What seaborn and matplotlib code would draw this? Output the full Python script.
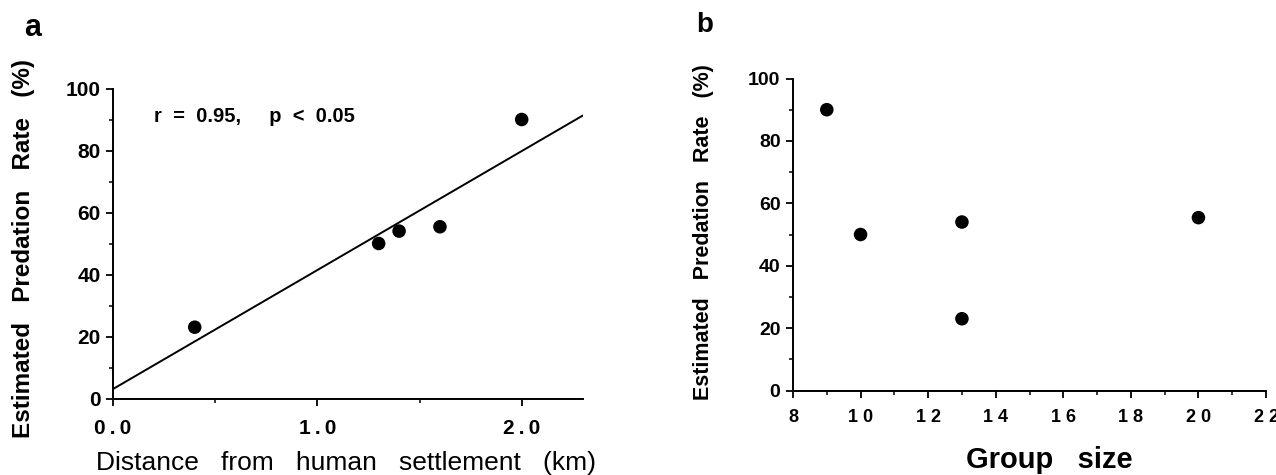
import numpy as np
import pandas as pd
import matplotlib
matplotlib.use('Agg')
import matplotlib.pyplot as plt
import seaborn as sns
from matplotlib.ticker import MultipleLocator

sns.set_style("ticks")
plt.rcParams['font.family'] = ['Liberation Sans', 'DejaVu Sans']
plt.rcParams['text.color'] = 'black'
plt.rcParams['axes.labelcolor'] = 'black'
plt.rcParams['xtick.color'] = 'black'
plt.rcParams['ytick.color'] = 'black'
plt.rcParams['axes.edgecolor'] = 'black'

# du lieu doc tu hinh (5 nhom)
distance_km = [0.4, 1.3, 1.4, 1.6, 2.0]
group_size = [13, 10, 13, 20, 9]
predation_rate = [23, 50, 54, 55.4, 90]

a_xticks = [0.0, 1.0, 2.0]
a_xlabels = ['0\u2009.\u20090', '1\u2009.\u20090', '2\u2009.\u20090']
a_yticks = [0, 20, 40, 60, 80, 100]
b_xticks = [8, 10, 12, 14, 16, 18, 20, 22]
b_xlabels = ['8', '1 0', '1 2', '1 4', '1 6', '1 8', '2 0', '2 2']

df = pd.DataFrame({'dist': distance_km, 'group': group_size, 'rate': predation_rate})

W, H = 1276, 475
fig = plt.figure(figsize=(W / 100, H / 100), dpi=100)


def rect(left, right, top, bottom):
    return [left / W, 1 - bottom / H, (right - left) / W, (bottom - top) / H]


ax1 = fig.add_axes(rect(113, 583, 88.5, 398.5))
ax2 = fig.add_axes(rect(793, 1266, 78.5, 390.5))

for ax in (ax1, ax2):
    for s in ['top', 'right']:
        ax.spines[s].set_visible(False)
    for s in ['left', 'bottom']:
        ax.spines[s].set_linewidth(1.4)
    ax.tick_params(which='major', direction='out', length=5, width=1.3)
    ax.tick_params(which='minor', direction='out', length=3, width=1.1)
    ax.yaxis.set_minor_locator(MultipleLocator(10))
    ax.set_ylim(0, 100)

# ---- panel a
ax1.set_xlim(0, 2.3)
sns.regplot(data=df, x='dist', y='rate', ax=ax1, ci=None, truncate=False,
            scatter_kws=dict(s=95, color='black', edgecolor='none', alpha=1),
            line_kws=dict(color='black', lw=1.4))
ax1.set_xlim(0, 2.3)
ax1.set_xticks(a_xticks, a_xlabels)
ax1.xaxis.set_minor_locator(MultipleLocator(0.5))
ax1.set_yticks(a_yticks, [str(v) for v in a_yticks])
ax1.tick_params(axis='y', labelsize=15, pad=4)
ax1.tick_params(axis='x', labelsize=15, pad=10)
ax1.set_xlabel('')
ax1.set_ylabel('')
ax1.text(0.2, 91, 'r  =  0.95,     p  <  0.05', fontsize=14.5, fontweight='bold',
         ha='left', va='center')

# ---- panel b
sns.scatterplot(data=df, x='group', y='rate', ax=ax2, s=95, color='black',
                edgecolor='none', legend=False)
ax2.set_xlim(8, 22)
ax2.set_xticks(b_xticks, b_xlabels)
ax2.xaxis.set_minor_locator(MultipleLocator(1))
ax2.set_yticks(a_yticks, [str(v) for v in a_yticks])
ax2.tick_params(axis='y', labelsize=14, pad=4)
ax2.tick_params(axis='x', labelsize=13, pad=8)
ax2.set_xlabel('')
ax2.set_ylabel('')

for ax in (ax1, ax2):
    for lab in ax.get_xticklabels() + ax.get_yticklabels():
        lab.set_fontweight('bold')

# nhan truc va chu cai
fig.text(33 / W, 1 - 28 / H, 'a', fontsize=22, fontweight='bold', ha='center', va='center')
fig.text(705 / W, 1 - 25 / H, 'b', fontsize=20, fontweight='bold', ha='center', va='center')
fig.text(24 / W, 1 - 248 / H, 'Estimated   Predation   Rate   (%)', rotation=90,
         fontsize=17.5, fontweight='bold', ha='center', va='center')
fig.text(703 / W, 1 - 232 / H, 'Estimated   Predation   Rate   (%)', rotation=90,
         fontsize=15.5, fontweight='bold', ha='center', va='center')
fig.text(346 / W, 1 - 470 / H, 'Distance   from   human   settlement   (km)',
         fontsize=19, ha='center', va='baseline')
fig.text(1049 / W, 1 - 468 / H, 'Group   size', fontsize=21, fontweight='bold',
         ha='center', va='baseline')

fig.savefig('out.png', dpi=100, facecolor='white')
